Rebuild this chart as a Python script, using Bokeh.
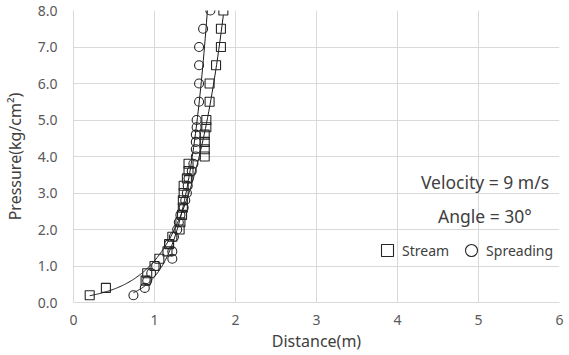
import numpy as np
from bokeh.plotting import figure
from bokeh.models import Legend, LegendItem, Label, FixedTicker, NumeralTickFormatter, Range1d
from bokeh.embed import file_html
from bokeh.resources import INLINE

# ---- data ----
pressure = [0.2, 0.4, 0.6, 0.8, 1.0, 1.2, 1.4, 1.6, 1.8, 2.0, 2.2, 2.4, 2.6, 2.8, 3.0,
            3.2, 3.4, 3.6, 3.8, 4.0, 4.2, 4.4, 4.6, 4.8, 5.0, 5.5, 6.0, 6.5, 7.0, 7.5, 8.0]
stream_dist = [0.20, 0.40, 0.89, 0.91, 1.00, 1.06, 1.16, 1.18, 1.22, 1.31, 1.32, 1.34, 1.35, 1.35, 1.36,
               1.36, 1.40, 1.42, 1.42, 1.62, 1.62, 1.62, 1.62, 1.64, 1.64, 1.68, 1.68, 1.76, 1.82, 1.82, 1.85]
spread_dist = [0.74, 0.88, 0.91, 0.96, 1.02, 1.22, 1.22, 1.18, 1.24, 1.28, 1.30, 1.32, 1.36, 1.38, 1.40,
               1.41, 1.42, 1.46, 1.48, 1.51, 1.51, 1.51, 1.51, 1.52, 1.52, 1.55, 1.55, 1.55, 1.55, 1.60, 1.69]
x_ticks = [0, 1, 2, 3, 4, 5, 6]
y_ticks = [0, 1, 2, 3, 4, 5, 6, 7, 8]
note_lines = ["Velocity = 9 m/s", "Angle = 30°"]
series_names = ["Stream", "Spreading"]

FONT = "Noto Sans"
TXT = "#404040"

p = figure(frame_width=486, frame_height=292, output_backend="svg", toolbar_location=None,
           x_range=Range1d(0, 6), y_range=Range1d(0, 8),
           min_border_left=0, min_border_right=7, min_border_top=10, min_border_bottom=0)
p.outline_line_color = None
p.background_fill_color = "white"

for ax in (p.xaxis[0], p.yaxis[0]):
    ax.major_tick_line_color = None
    ax.minor_tick_line_color = None
    ax.axis_line_color = "#d9d9d9"
    ax.major_label_text_font = FONT
    ax.major_label_text_font_size = "14px"
    ax.major_label_text_color = "#595959"
    ax.axis_label_text_font = FONT
    ax.axis_label_text_font_size = "16px"
    ax.axis_label_text_font_style = "normal"
    ax.axis_label_text_color = TXT

p.xaxis.ticker = FixedTicker(ticks=x_ticks)
p.yaxis.ticker = FixedTicker(ticks=y_ticks)
p.yaxis.formatter = NumeralTickFormatter(format="0.0")
p.xaxis.axis_label = "Distance(m)"
p.yaxis.axis_label = "Pressure(kg/cm²)"
p.xaxis.major_label_standoff = 6
p.xaxis.axis_label_standoff = 2
p.yaxis.major_label_standoff = 10
p.yaxis.axis_label_standoff = 9

p.xgrid.ticker = FixedTicker(ticks=x_ticks)
p.ygrid.ticker = FixedTicker(ticks=y_ticks)
p.grid.grid_line_color = "#d9d9d9"
p.grid.grid_line_width = 1

# exponential trendlines fitted to the data (least squares on ln p)
def trend(xs, ys):
    xs = np.asarray(xs); ys = np.asarray(ys)
    b, lna = np.polyfit(xs, np.log(ys), 1)
    xx = np.linspace(xs.min(), xs.max(), 120)
    return xx, np.exp(lna) * np.exp(b * xx)

sx, sy = trend(stream_dist, pressure)
cx, cy = trend(spread_dist, pressure)
p.line(sx, sy, line_color="#1a1a1a", line_width=1)
p.line(cx, cy, line_color="#1a1a1a", line_width=1)

r_sq = p.scatter(stream_dist, pressure, marker="square", size=9, fill_color=None,
                 line_color="#262626", line_width=1.1)
r_ci = p.scatter(spread_dist, pressure, marker="circle", size=9, fill_color=None,
                 line_color="#262626", line_width=1.1)

legend = Legend(items=[LegendItem(label=series_names[0], renderers=[r_sq]),
                       LegendItem(label=series_names[1], renderers=[r_ci])],
                orientation="horizontal", location=(299, 37),
                glyph_width=30, glyph_height=30, label_standoff=0, spacing=7,
                padding=0, margin=0, border_line_color=None, background_fill_alpha=0,
                label_text_font=FONT, label_text_font_size="14px", label_text_color=TXT)
p.add_layout(legend, "center")

for txt, yv in zip(note_lines, [3.3, 2.36]):
    p.add_layout(Label(x=5.08, y=yv, text=txt, text_align="center", text_baseline="middle",
                       text_font=FONT, text_font_size="17.5px", text_color=TXT))

open("out.html", "w").write(file_html(p, INLINE))
